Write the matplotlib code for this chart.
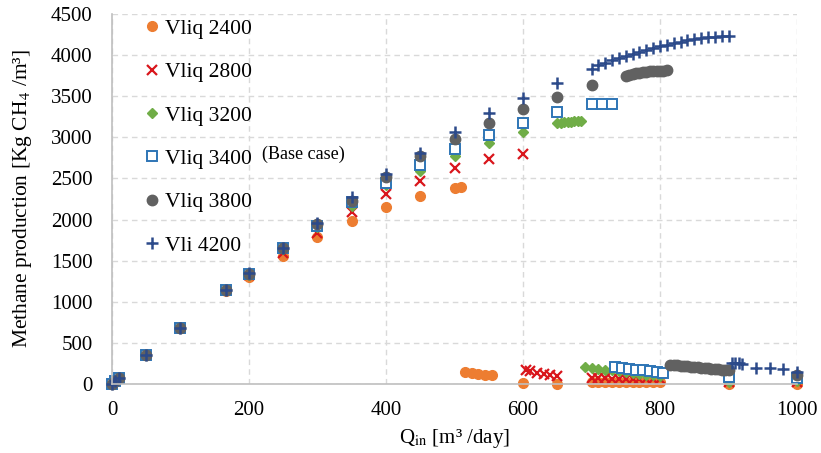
import matplotlib.pyplot as plt

plt.rcParams['font.family'] = ['Liberation Serif', 'DejaVu Serif']
plt.rcParams['mathtext.fontset'] = 'stix'

# --- data ---
q_2400 = [0, 5, 10, 50, 100, 167, 200, 250, 300, 350, 400, 450, 500, 510,
          515, 525, 535, 545, 555, 600, 650,
          700, 710, 720, 730, 740, 750, 760, 770, 780, 790, 800, 900, 1000]
m_2400 = [0, 35, 70, 350, 680, 1130, 1300, 1560, 1790, 1985, 2155, 2290, 2390, 2395,
          145, 135, 125, 115, 105, 10, 5,
          30, 30, 30, 28, 28, 28, 26, 26, 25, 25, 25, 5, 5]

q_2800 = [0, 5, 10, 50, 100, 167, 200, 250, 300, 350, 400, 450, 500, 550, 600,
          605, 610, 620, 630, 640, 650,
          700, 710, 720, 730, 740, 750, 760, 770, 780, 790, 800, 900, 1000]
m_2800 = [0, 35, 70, 355, 685, 1140, 1320, 1590, 1840, 2095, 2310, 2475, 2625, 2740, 2800,
          170, 160, 135, 125, 115, 100,
          70, 68, 67, 66, 65, 64, 63, 62, 61, 60, 60, 20, 20]

q_3200 = [0, 5, 10, 50, 100, 167, 200, 250, 300, 350, 400, 450, 500, 550, 600,
          650, 655, 660, 665, 670, 675, 680, 685,
          690, 700, 710, 720, 730, 740, 750, 760, 770, 780, 790, 800, 900, 1000]
m_3200 = [0, 35, 70, 355, 685, 1140, 1330, 1640, 1915, 2160, 2420, 2595, 2775, 2930, 3065,
          3170, 3180, 3185, 3190, 3190, 3195, 3195, 3200,
          205, 195, 185, 175, 165, 155, 145, 135, 125, 115, 105, 95, 30, 40]

q_3400 = [0, 5, 10, 50, 100, 167, 200, 250, 300, 350, 400, 450, 500, 550, 600, 650,
          700, 715, 730,
          735, 745, 755, 765, 775, 785, 795, 805, 900, 1000]
m_3400 = [0, 35, 70, 355, 685, 1140, 1340, 1650, 1925, 2215, 2450, 2665, 2855, 3030, 3175, 3310,
          3400, 3405, 3410,
          205, 195, 185, 175, 165, 155, 145, 135, 85, 70]

q_3800 = [0, 5, 10, 50, 100, 167, 200, 250, 300, 350, 400, 450, 500, 550, 600, 650, 700,
          750, 755, 760, 765, 770, 775, 780, 785, 790, 795, 800, 805, 810,
          815, 820, 825, 830, 835, 840, 845, 850, 855, 860, 865, 870, 875, 880, 885,
          890, 895, 900, 1000]
m_3800 = [0, 35, 70, 355, 685, 1140, 1340, 1650, 1950, 2225, 2515, 2775, 2980, 3175, 3345, 3490, 3637,
          3745, 3760, 3770, 3780, 3787, 3793, 3798, 3802, 3806, 3809, 3811, 3813, 3815,
          235, 230, 226, 222, 218, 214, 210, 206, 202, 198, 194, 190, 186, 182, 178,
          175, 172, 170, 110]

q_4200 = [0, 5, 10, 50, 100, 167, 200, 250, 300, 350, 400, 450, 500, 550, 600, 650,
          700, 710, 720, 730, 740, 750, 760, 770, 780, 790, 800, 810, 820, 830,
          840, 850, 860, 870, 880, 890, 900,
          905, 910, 915, 920, 940, 960, 980, 1000]
m_4200 = [0, 35, 70, 355, 685, 1145, 1345, 1655, 1960, 2275, 2555, 2810, 3070, 3297, 3480, 3662,
          3830, 3880, 3910, 3940, 3960, 3985, 4010, 4040, 4065, 4090, 4110, 4125, 4145, 4160,
          4180, 4195, 4208, 4218, 4226, 4232, 4235,
          255, 250, 250, 245, 200, 190, 180, 150]

labels = ['Vliq 2400', 'Vliq 2800', 'Vliq 3200', 'Vliq 3400', 'Vliq 3800', 'Vli 4200']
x_ticks = [0, 200, 400, 600, 800, 1000]
y_ticks = [0, 500, 1000, 1500, 2000, 2500, 3000, 3500, 4000, 4500]

fig = plt.figure(figsize=(8.21, 4.53), dpi=100)
ax = fig.add_axes([0.1364, 0.1523, 0.8344, 0.8167])

# excel style markers, not clipped at the axes edge
ax.plot(q_2400, m_2400, ls='', marker='o', ms=7, color='#ED7D31', label=labels[0], clip_on=False)
ax.plot(q_2800, m_2800, ls='', marker='x', ms=7, mew=1.6, color='#D9161C', label=labels[1], clip_on=False)
ax.plot(q_3200, m_3200, ls='', marker='D', ms=5, color='#70AD47', label=labels[2], clip_on=False)
ax.plot(q_3400, m_3400, ls='', marker='s', ms=7, mfc='white', mec='#2E75B6', mew=1.4,
        label=labels[3], clip_on=False)
ax.plot(q_3800, m_3800, ls='', marker='o', ms=7.5, color='#616161', label=labels[4], clip_on=False)
ax.plot(q_4200, m_4200, ls='', marker='+', ms=8, mew=1.8, color='#2C4A8A', label=labels[5], clip_on=False)

ax.set_xlim(0, 1000)
ax.set_ylim(0, 4500)
ax.set_xticks(x_ticks)
ax.set_yticks(y_ticks)
ax.tick_params(labelsize=15, length=0)
ax.tick_params(axis='x', pad=12)
ax.tick_params(axis='y', pad=14)
ax.grid(True, color='#D9D9D9', ls=(0, (4, 3)), lw=1)
ax.set_axisbelow(True)
for s in ['top', 'right']:
    ax.spines[s].set_visible(False)
for s in ['left', 'bottom']:
    ax.spines[s].set_color('#BFBFBF')
    ax.spines[s].set_linewidth(1.2)

ax.set_xlabel('Q$_{\\mathrm{in}}$ [m³ /day]', fontsize=15, labelpad=5)
ax.set_ylabel('Methane production [Kg CH$_4$ /m³]', fontsize=15.5, labelpad=12)

leg = ax.legend(loc='upper left', frameon=False, fontsize=15.5, handletextpad=-0.15,
                labelspacing=1.08, borderaxespad=0.0, handlelength=1.5,
                bbox_to_anchor=(0.022, 1.01))

ax.text(0.219, 0.622, '(Base case)', transform=ax.transAxes, fontsize=13, va='center')

fig.savefig('out.png', dpi=100)
